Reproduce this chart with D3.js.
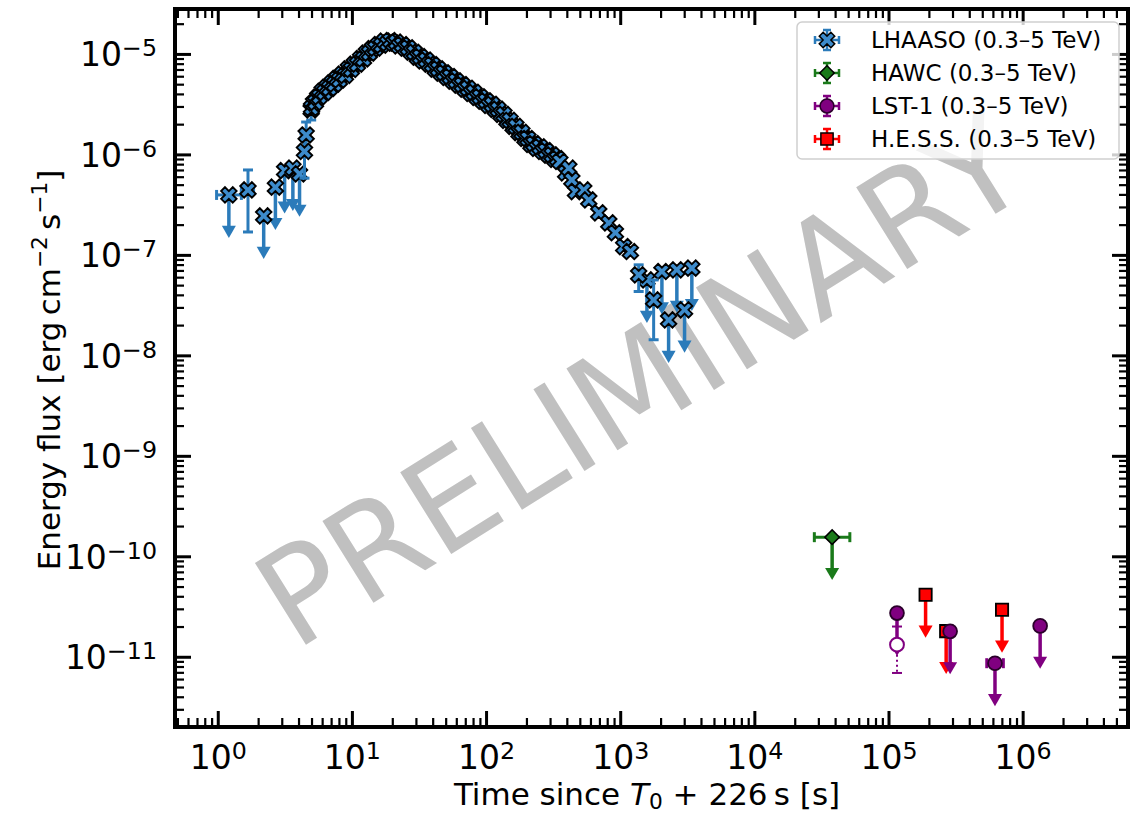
<!DOCTYPE html>
<html>
<head>
<meta charset="utf-8">
<script src="https://cdn.jsdelivr.net/npm/d3@7"></script>
<style>
  body { margin: 0; background: #fff; }
  text { font-family: "DejaVu Sans", sans-serif; }
</style>
</head>
<body>
<div id="chart"></div>
<script>
// ---- data ----
// LHAASO, dense light curve (error bars hidden behind markers)
var lhaasoTime = [5.0, 5.17, 5.35, 5.55, 5.73, 6.0, 6.25, 6.5, 6.8, 7.1, 7.41, 7.75, 8.07, 8.5, 8.95, 9.4, 9.91,
  10.4, 11.0, 11.6, 12.2, 12.8, 13.5, 14.2, 15.0, 15.8, 16.6, 17.5, 18.4, 19.4, 20.4, 21.4, 22.5, 23.7, 25.0,
  26.3, 27.7, 29.2, 30.7, 32.3, 34.0, 35.8, 37.7, 39.7, 41.8, 44.0, 46.3, 48.7, 51.3, 54.0, 56.8, 59.8, 63.0,
  66.3, 69.8, 73.5, 77.3, 81.4, 85.7, 90.2, 95.0, 100, 105, 111, 117, 123, 129, 136, 143, 151, 159, 167, 176,
  185, 195, 205, 216, 227, 239, 252, 265, 279, 294, 310, 326, 340, 355, 392, 414, 436, 464, 535, 583, 692,
  822, 921, 1062, 1191];
var lhaasoFlux = [2.90e-6, 3.25e-6, 3.30e-6, 3.70e-6, 3.75e-6, 4.25e-6, 4.15e-6, 4.65e-6, 4.55e-6, 5.15e-6,
  5.0e-6, 5.7e-6, 5.5e-6, 6.3e-6, 6.1e-6, 7.1e-6, 7.0e-6, 7.9e-6, 7.9e-6, 9.0e-6, 8.9e-6, 1.02e-5, 1.02e-5,
  1.13e-5, 1.14e-5, 1.24e-5, 1.22e-5, 1.34e-5, 1.28e-5, 1.36e-5, 1.28e-5, 1.31e-5, 1.20e-5, 1.24e-5, 1.14e-5,
  1.15e-5, 1.04e-5, 1.04e-5, 9.3e-6, 9.4e-6, 8.5e-6, 8.7e-6, 7.9e-6, 7.85e-6, 7.05e-6, 7.1e-6, 6.45e-6, 6.5e-6,
  5.85e-6, 5.95e-6, 5.35e-6, 5.4e-6, 4.9e-6, 4.95e-6, 4.45e-6, 4.55e-6, 4.05e-6, 4.15e-6, 3.7e-6, 3.75e-6,
  3.38e-6, 3.42e-6, 3.08e-6, 3.15e-6, 2.80e-6, 2.82e-6, 2.50e-6, 2.50e-6, 2.18e-6, 2.18e-6, 1.90e-6, 1.90e-6,
  1.65e-6, 1.66e-6, 1.44e-6, 1.44e-6, 1.26e-6, 1.28e-6, 1.15e-6, 1.19e-6, 1.07e-6, 1.09e-6, 9.8e-7, 9.9e-7,
  8.9e-7, 9.1e-7, 8.5e-7, 6.55e-7, 7.29e-7, 5.57e-7, 4.26e-7, 4.43e-7, 3.52e-7, 2.62e-7, 2.08e-7, 1.66e-7,
  1.21e-7, 1.08e-7];

// LHAASO points with visible error bars
var lhaasoBarTime = [1.68, 4.43, 4.56, 4.97, 1373, 1775];
var lhaasoBarTimeLo = [1.50, 4.43, 4.56, 4.97, 1373, 1775];
var lhaasoBarTimeHi = [1.85, 4.43, 4.56, 4.97, 1373, 1775];
var lhaasoBarFlux = [4.43e-7, 1.07e-6, 1.56e-6, 2.77e-6, 6.32e-8, 3.56e-8];
var lhaasoBarFluxLo = [1.69e-7, 5.8e-7, 1.0e-6, 2.2e-6, 4.32e-8, 1.43e-8];
var lhaasoBarFluxHi = [7.0e-7, 1.6e-6, 2.1e-6, 3.4e-6, 7.96e-8, 5.63e-8];

// LHAASO upper limits
var lhaasoUlTime = [1.21, 2.2, 2.69, 3.15, 3.63, 4.07, 1582, 2046, 2295, 2644, 3018, 3420];
var lhaasoUlTimeLo = [0.98, 2.2, 2.69, 3.15, 3.63, 4.07, 1582, 2046, 2295, 2644, 3018, 3420];
var lhaasoUlTimeHi = [1.50, 2.2, 2.69, 3.15, 3.63, 4.07, 1582, 2046, 2295, 2644, 3018, 3420];
var lhaasoUlFlux = [3.95e-7, 2.44e-7, 4.72e-7, 6.9e-7, 7.3e-7, 6.4e-7, 5.63e-8, 6.83e-8, 2.25e-8, 7.1e-8,
  2.84e-8, 7.38e-8];

// HAWC upper limit
var hawcTime = [3.8e4], hawcTimeLo = [2.8e4], hawcTimeHi = [5.15e4], hawcFlux = [1.55e-10];

// LST-1 upper limits and one detection
var lstUlTime = [1.157e5, 2.88e5, 6.22e5, 1.35e6];
var lstUlTimeLo = [1.157e5, 2.8e5, 5.4e5, 1.3e6];
var lstUlTimeHi = [1.157e5, 2.96e5, 7.18e5, 1.41e6];
var lstUlFlux = [2.72e-11, 1.79e-11, 8.63e-12, 2.03e-11];
var lstDetTime = [1.157e5], lstDetFlux = [1.32e-11], lstDetFluxLo = [6.9e-12], lstDetFluxHi = [2.0e-11];

// H.E.S.S. upper limits
var hessTime = [1.89e5, 2.69e5, 7.02e5];
var hessFlux = [4.14e-11, 1.8e-11, 2.94e-11];

var legendLabels = ["LHAASO (0.3\u20135 TeV)", "HAWC (0.3\u20135 TeV)", "LST-1 (0.3\u20135 TeV)", "H.E.S.S. (0.3\u20135 TeV)"];
var xMajor = [1, 10, 100, 1e3, 1e4, 1e5, 1e6];
var yMajor = [1e-11, 1e-10, 1e-9, 1e-8, 1e-7, 1e-6, 1e-5];
var ulArrow = 0.42; // upper-limit arrow reaches flux*ulArrow

(function() {
  var width = 1141, height = 813;
  var mLeft = 175, mRight = 1128, mTop = 9, mBottom = 727;

  var svg = d3.select("#chart").append("svg")
    .attr("width", width).attr("height", height);

  var x = d3.scaleLog().domain([0.48, 6.1e6]).range([mLeft, mRight]);
  var y = d3.scaleLog().domain([2.0e-12, 2.8e-5]).range([mBottom, mTop]);

  var blue = "#2b7bba", green = "#1a7a1a", purple = "#800080", red = "#ff0000";

  // watermark
  svg.append("text")
    .attr("transform", "translate(640,380) rotate(-32)")
    .attr("text-anchor", "middle")
    .attr("dy", "0.36em")
    .attr("font-size", 132)
    .attr("fill", "#c0c0c0")
    .text("PRELIMINARY");

  function minors(lo, hi) {
    var out = [];
    for (var e = lo; e <= hi; e++) {
      for (var m = 2; m <= 9; m++) out.push(m * Math.pow(10, e));
    }
    return out;
  }
  var xMinor = minors(-1, 6).filter(function(v) { return v > 0.48 && v < 6.1e6; });
  var yMinor = minors(-12, -5).filter(function(v) { return v > 2.0e-12 && v < 2.8e-5; });

  function styleTicks(g, w) {
    g.select(".domain").remove();
    g.selectAll(".tick line").attr("stroke", "#000").attr("stroke-width", w);
  }

  // x axes (bottom + top)
  var gxb = svg.append("g").attr("transform", "translate(0," + mBottom + ")")
    .call(d3.axisBottom(x).tickValues(xMajor).tickSize(-16).tickPadding(0));
  styleTicks(gxb, 3);
  svg.append("g").attr("transform", "translate(0," + mBottom + ")")
    .call(d3.axisBottom(x).tickValues(xMinor).tickSize(-9).tickFormat(""))
    .call(styleTicks, 2.2);
  svg.append("g").attr("transform", "translate(0," + mTop + ")")
    .call(d3.axisTop(x).tickValues(xMajor).tickSize(-16).tickFormat(""))
    .call(styleTicks, 3);
  svg.append("g").attr("transform", "translate(0," + mTop + ")")
    .call(d3.axisTop(x).tickValues(xMinor).tickSize(-9).tickFormat(""))
    .call(styleTicks, 2.2);

  // y axes (left + right)
  var gyl = svg.append("g").attr("transform", "translate(" + mLeft + ",0)")
    .call(d3.axisLeft(y).tickValues(yMajor).tickSize(-16).tickPadding(0));
  styleTicks(gyl, 3);
  svg.append("g").attr("transform", "translate(" + mLeft + ",0)")
    .call(d3.axisLeft(y).tickValues(yMinor).tickSize(-9).tickFormat(""))
    .call(styleTicks, 2.2);
  svg.append("g").attr("transform", "translate(" + mRight + ",0)")
    .call(d3.axisRight(y).tickValues(yMajor).tickSize(-16).tickFormat(""))
    .call(styleTicks, 3);
  svg.append("g").attr("transform", "translate(" + mRight + ",0)")
    .call(d3.axisRight(y).tickValues(yMinor).tickSize(-9).tickFormat(""))
    .call(styleTicks, 2.2);

  function powLabel(text, d) {
    var e = Math.round(Math.log10(d));
    text.text(null);
    text.append("tspan").text("10");
    text.append("tspan").attr("dy", "-0.42em").attr("font-size", "0.72em")
      .text(e < 0 ? "\u2212" + (-e) : String(e));
  }
  gxb.selectAll(".tick text")
    .attr("font-size", 33).attr("fill", "#000").attr("font-family", "DejaVu Sans")
    .attr("y", 42).attr("dy", null)
    .each(function(d) { powLabel(d3.select(this), d); });
  gyl.selectAll(".tick text")
    .attr("font-size", 33).attr("fill", "#000").attr("font-family", "DejaVu Sans")
    .attr("x", -18).attr("dy", "0.36em")
    .each(function(d) { powLabel(d3.select(this), d); });

  // axis labels
  var xl = svg.append("text").attr("x", 647).attr("y", 805).attr("text-anchor", "middle")
    .attr("font-size", 31);
  xl.append("tspan").text("Time since ");
  xl.append("tspan").attr("font-style", "italic").text("T");
  xl.append("tspan").attr("font-size", "0.7em").attr("dy", "0.2em").text("0");
  xl.append("tspan").attr("dy", "-0.14em").text(" + 226\u2009s [s]");

  var yl = svg.append("text").attr("transform", "translate(60,370) rotate(-90)")
    .attr("text-anchor", "middle").attr("font-size", 31);
  yl.append("tspan").text("Energy flux [erg\u2009cm");
  yl.append("tspan").attr("font-size", "0.7em").attr("dy", "-0.6em").text("\u22122");
  yl.append("tspan").attr("dy", "0.42em").text("\u2009s");
  yl.append("tspan").attr("font-size", "0.7em").attr("dy", "-0.6em").text("\u22121");
  yl.append("tspan").attr("dy", "0.42em").text("]");

  // ---- markers & error bars ----
  var markers = {
    X: { type: d3.symbolCross, size: 150, rot: 45 },
    D: { type: d3.symbolSquare, size: 105, rot: 45 },
    o: { type: d3.symbolCircle, size: 150, rot: 0 },
    s: { type: d3.symbolSquare, size: 150, rot: 0 }
  };

  function pts(t, f, opt) {
    opt = opt || {};
    return t.map(function(v, i) {
      return {
        t: v, f: f[i],
        tlo: opt.tlo ? opt.tlo[i] : v, thi: opt.thi ? opt.thi[i] : v,
        flo: opt.flo ? opt.flo[i] : f[i], fhi: opt.fhi ? opt.fhi[i] : f[i],
        ul: !!opt.ul
      };
    });
  }

  function drawSeries(data, st) {
    var g = svg.append("g");
    var cap = st.cap || 5;
    data.forEach(function(d) {
      var cx = x(d.t), cy = y(d.f);
      if (d.tlo !== d.t || d.thi !== d.t) {
        g.append("line").attr("x1", x(d.tlo)).attr("x2", x(d.thi)).attr("y1", cy).attr("y2", cy)
          .attr("stroke", st.color).attr("stroke-width", st.lw);
        [d.tlo, d.thi].forEach(function(v) {
          g.append("line").attr("x1", x(v)).attr("x2", x(v)).attr("y1", cy - cap).attr("y2", cy + cap)
            .attr("stroke", st.color).attr("stroke-width", st.lw);
        });
      }
      if (d.fhi !== d.f) {
        g.append("line").attr("x1", cx).attr("x2", cx).attr("y1", cy).attr("y2", y(d.fhi))
          .attr("stroke", st.color).attr("stroke-width", st.lw);
        g.append("line").attr("x1", cx - cap).attr("x2", cx + cap).attr("y1", y(d.fhi)).attr("y2", y(d.fhi))
          .attr("stroke", st.color).attr("stroke-width", st.lw);
      }
      if (d.flo !== d.f) {
        g.append("line").attr("x1", cx).attr("x2", cx).attr("y1", cy).attr("y2", y(d.flo))
          .attr("stroke", st.color).attr("stroke-width", st.lw)
          .attr("stroke-dasharray", st.dashLo || null);
        g.append("line").attr("x1", cx - cap).attr("x2", cx + cap).attr("y1", y(d.flo)).attr("y2", y(d.flo))
          .attr("stroke", st.color).attr("stroke-width", st.lw);
      }
      if (d.ul) {
        var ye = y(d.f * ulArrow);
        g.append("line").attr("x1", cx).attr("x2", cx).attr("y1", cy).attr("y2", ye - 4)
          .attr("stroke", st.color).attr("stroke-width", st.lw + 0.5);
        g.append("path").attr("d", d3.symbol(d3.symbolTriangle, 85)())
          .attr("transform", "translate(" + cx + "," + (ye - 3) + ") rotate(180)")
          .attr("fill", st.color);
      }
    });
    var m = markers[st.marker];
    g.selectAll(".mk").data(data).enter().append("path")
      .attr("d", d3.symbol(m.type, m.size)())
      .attr("transform", function(d) { return "translate(" + x(d.t) + "," + y(d.f) + ") rotate(" + m.rot + ")"; })
      .attr("fill", st.fill).attr("stroke", st.edge).attr("stroke-width", st.ew);
  }

  var lhStyle = { color: blue, lw: 3, marker: "X", fill: "#3d8bcb", edge: "#000", ew: 1.9 };
  drawSeries(pts(lhaasoUlTime, lhaasoUlFlux, { tlo: lhaasoUlTimeLo, thi: lhaasoUlTimeHi, ul: true }), lhStyle);
  drawSeries(pts(lhaasoBarTime, lhaasoBarFlux, { tlo: lhaasoBarTimeLo, thi: lhaasoBarTimeHi, flo: lhaasoBarFluxLo, fhi: lhaasoBarFluxHi }), lhStyle);
  drawSeries(pts(lhaasoTime, lhaasoFlux), lhStyle);

  drawSeries(pts(hawcTime, hawcFlux, { tlo: hawcTimeLo, thi: hawcTimeHi, ul: true }),
    { color: green, lw: 3, marker: "D", fill: green, edge: "#000", ew: 1.6 });

  drawSeries(pts(hessTime, hessFlux, { ul: true }),
    { color: red, lw: 3, marker: "s", fill: red, edge: "#000", ew: 1.8 });

  drawSeries(pts(lstUlTime, lstUlFlux, { tlo: lstUlTimeLo, thi: lstUlTimeHi, ul: true }),
    { color: purple, lw: 3, marker: "o", fill: purple, edge: "#2a002a", ew: 1.8 });
  drawSeries(pts(lstDetTime, lstDetFlux, { flo: lstDetFluxLo, fhi: lstDetFluxHi }),
    { color: purple, lw: 2, marker: "o", fill: "#fff", edge: purple, ew: 2, dashLo: "2,3" });

  // ---- legend ----
  var leg = svg.append("g");
  leg.append("rect").attr("x", 797).attr("y", 22).attr("width", 322).attr("height", 137).attr("rx", 5)
    .attr("fill", "#fff").attr("fill-opacity", 0.8).attr("stroke", "#cfcfcf").attr("stroke-width", 1.5);
  var legStyles = [
    { color: blue, marker: "X", fill: "#3d8bcb", edge: "#000" },
    { color: green, marker: "D", fill: green, edge: "#000" },
    { color: purple, marker: "o", fill: purple, edge: "#2a002a" },
    { color: red, marker: "s", fill: red, edge: "#000" }
  ];
  legendLabels.forEach(function(lab, i) {
    var cy = 40 + i * 33, cx = 827, st = legStyles[i];
    var h = leg.append("g").attr("transform", "translate(" + cx + "," + cy + ")");
    h.append("line").attr("x1", -12).attr("x2", 12).attr("stroke", st.color).attr("stroke-width", 2.5);
    h.append("line").attr("y1", -10).attr("y2", 10).attr("stroke", st.color).attr("stroke-width", 2.5);
    [-12, 12].forEach(function(v) {
      h.append("line").attr("x1", v).attr("x2", v).attr("y1", -4).attr("y2", 4).attr("stroke", st.color).attr("stroke-width", 2.5);
    });
    [-10, 10].forEach(function(v) {
      h.append("line").attr("y1", v).attr("y2", v).attr("x1", -4).attr("x2", 4).attr("stroke", st.color).attr("stroke-width", 2.5);
    });
    var m = markers[st.marker];
    h.append("path").attr("d", d3.symbol(m.type, m.size)()).attr("transform", "rotate(" + m.rot + ")")
      .attr("fill", st.fill).attr("stroke", st.edge).attr("stroke-width", 1.5);
    leg.append("text").attr("x", 871).attr("y", cy).attr("dy", "0.36em").attr("font-size", 23).text(lab);
  });

  // frame
  svg.append("rect").attr("x", mLeft).attr("y", mTop).attr("width", mRight - mLeft).attr("height", mBottom - mTop)
    .attr("fill", "none").attr("stroke", "#000").attr("stroke-width", 4);
})();
</script>
</body>
</html>
